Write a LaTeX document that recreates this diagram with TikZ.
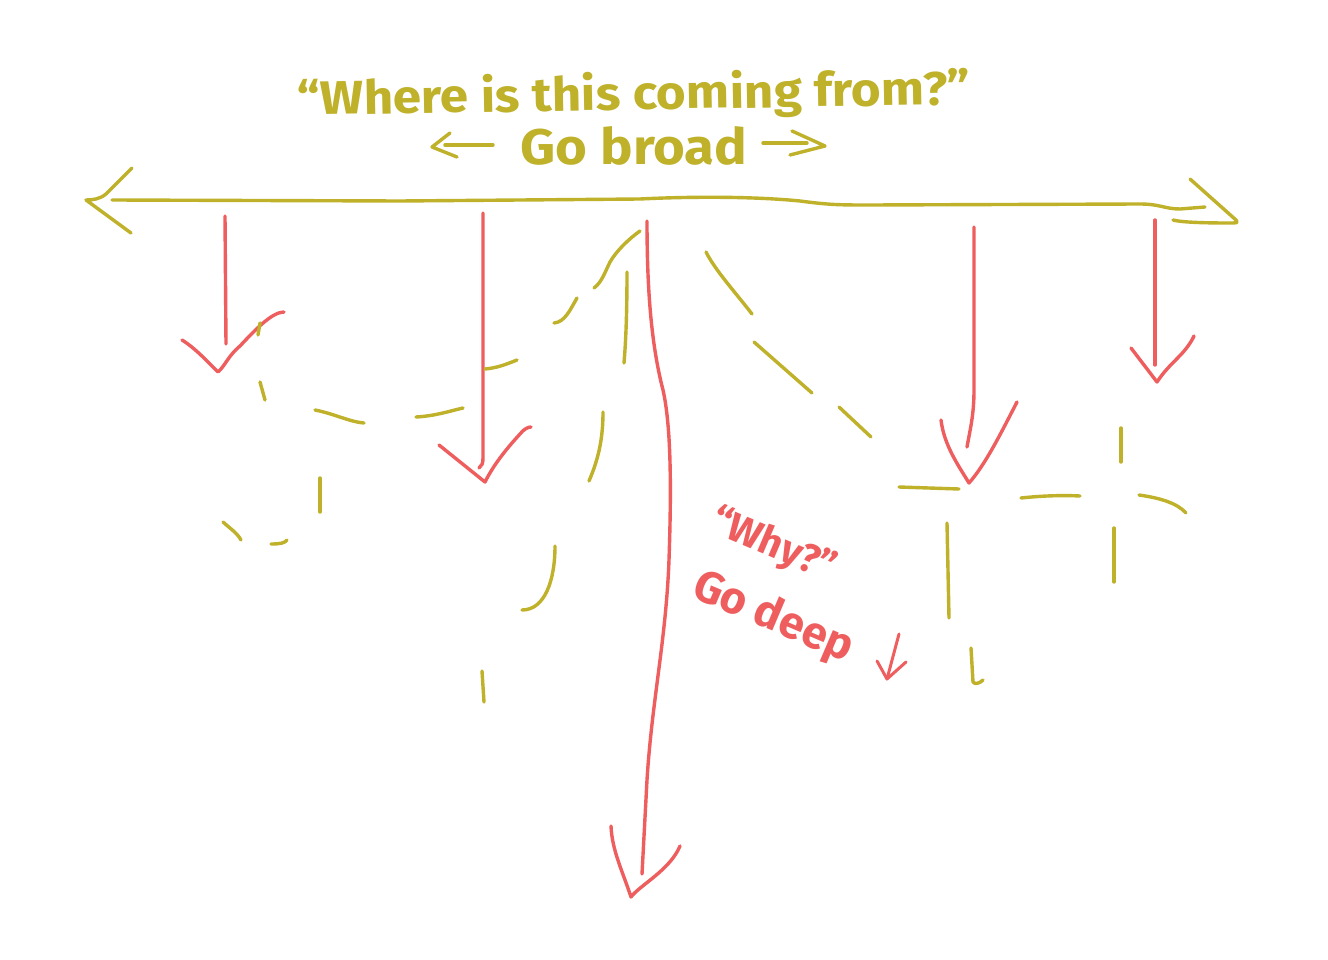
\documentclass[tikz,border=0pt]{standalone}
\usepackage{fontspec}
\setmainfont{Fira Sans}
\definecolor{skO}{HTML}{BFB12A}
\definecolor{skR}{HTML}{EF5E5E}
\tikzset{
  ol/.style={draw=skO, line width=3.4pt, line cap=round, line join=round},
  rd/.style={draw=skR, line width=3.4pt, line cap=round, line join=round},
  toptext/.style={text=skO, font=\bfseries\fontsize{47}{50}\selectfont, inner sep=0pt, xscale=1.09},
  redtext/.style={text=skR, font=\bfseries\fontsize{45}{48}\selectfont, inner sep=0pt, rotate=-23},
}
\begin{document}
\begin{tikzpicture}[x=1pt,y=-1pt]
\useasboundingbox (0,0) rectangle (1328,960);
\fill[white] (0,0) rectangle (1328,960);

% --- top texts ---
\node[toptext, rotate=1] (where) at (634,96) {“Where is this coming from?”};
\node[toptext, font=\bfseries\fontsize{50}{54}\selectfont] (broad) at (634,146) {Go broad};
% small arrows beside "Go broad"
\coordinate (bl1) at (493,145); \coordinate (bl2) at (432,147);
\draw[ol] (bl1) -- (445,145);
\draw[ol] (450,133) -- (bl2) -- (457,157);
\coordinate (br1) at (763,143); \coordinate (br2) at (825,146);
\draw[ol] (br1) -- (807,143);
\draw[ol] (792,131) -- (br2) -- (790,155);

% --- main horizontal double arrow ---
\draw[ol] (112,200) -- (400,201) -- (640,199) .. controls (700,196) and (760,197) .. (800,201)
  .. controls (830,205) and (840,205) .. (870,205) -- (1140,204)
  .. controls (1160,204) and (1165,209) .. (1180,209) -- (1205,207);
\draw[ol] (132,168) -- (106,194) .. controls (100,199) and (93,200) .. (86,200) -- (131,233);
\draw[ol] (1190,179) -- (1236,220) .. controls (1238,223) .. (1228,223) .. controls (1200,223) and (1180,222) .. (1173,220);

% --- red arrows ---
% 1
\draw[rd] (225,216) -- (226,344);
\draw[rd] (182,340) .. controls (195,348) and (208,362) .. (218,372)
  .. controls (225,366) and (228,356) .. (240,346) .. controls (255,330) and (272,312) .. (284,312);
% 2
\draw[rd] (483,213) -- (483,458) .. controls (483,463) and (482,466) .. (479,468);
\draw[rd] (439,445) -- (485,482) .. controls (495,462) and (510,445) .. (520,434) .. controls (524,429) and (528,427) .. (531,427);
% 3 long centre
\draw[rd] (647,221) .. controls (647,280) and (650,340) .. (663,390)
  .. controls (672,430) and (671,500) .. (669,560)
  .. controls (666,640) and (652,700) .. (647,780) -- (642,874);
\draw[rd] (611,826) .. controls (612,850) and (622,870) .. (631,897)
  .. controls (640,885) and (670,870) .. (680,846);
% 4
\draw[rd] (974,227) -- (974,390) .. controls (974,415) and (970,430) .. (967,447);
\draw[rd] (941,420) .. controls (944,445) and (958,465) .. (969,483) .. controls (985,465) and (1000,435) .. (1017,402);
% 5
\draw[rd] (1155,220) -- (1155,365);
\draw[rd] (1131,348) -- (1157,382) .. controls (1170,362) and (1185,355) .. (1194,336);

% --- olive dashes (loose branches) ---
\draw[ol] (260,323) -- (258,335);
\draw[ol] (260,382) -- (265,400);
\draw[ol] (315,410) .. controls (335,414) and (350,422) .. (364,423);
\draw[ol] (416,417) .. controls (435,416) and (450,411) .. (463,408);
\draw[ol] (485,369) .. controls (497,368) and (507,364) .. (517,360);
\draw[ol] (554,323) .. controls (565,322) and (570,310) .. (577,298);
\draw[ol] (594,288) .. controls (602,282) and (605,272) .. (610,262) .. controls (617,250) and (630,238) .. (640,231);
\draw[ol] (627,272) .. controls (627,310) and (626,340) .. (624,363);
\draw[ol] (603,412) .. controls (603,440) and (598,460) .. (589,481);
\draw[ol] (555,546) .. controls (555,580) and (545,610) .. (522,610);
\draw[ol] (482,671) -- (484,702);
\draw[ol] (320,478) -- (320,512);
\draw[ol] (223,522) .. controls (232,530) and (237,533) .. (241,540);
\draw[ol] (271,544) .. controls (280,544) and (285,543) .. (287,540);

\draw[ol] (706,252) .. controls (715,270) and (735,292) .. (752,314);
\draw[ol] (754,342) -- (812,393);
\draw[ol] (839,407) -- (871,437);
\draw[ol] (899,487) -- (959,489);
\draw[ol] (1021,498) .. controls (1040,496) and (1060,495) .. (1080,496);
\draw[ol] (1139,495) .. controls (1160,498) and (1177,503) .. (1186,513);
\draw[ol] (1121,428) -- (1121,462);
\draw[ol] (1114,528) -- (1114,582);
\draw[ol] (947,523) -- (949,618);
\draw[ol] (971,648) -- (973,682) .. controls (975,685) and (980,683) .. (983,680);

% --- red label ---
\node[redtext, font=\bfseries\fontsize{40}{44}\selectfont] (why) at (773,546) {“Why?”};
\node[redtext] (deep) at (773,618) {Go deep};
\coordinate (da1) at (899,634); \coordinate (da2) at (887,679);
\draw[rd, line width=3pt] (da1) -- (da2);
\draw[rd, line width=3pt] (877,661) -- (da2) -- (906,662);
\end{tikzpicture}
\end{document}
